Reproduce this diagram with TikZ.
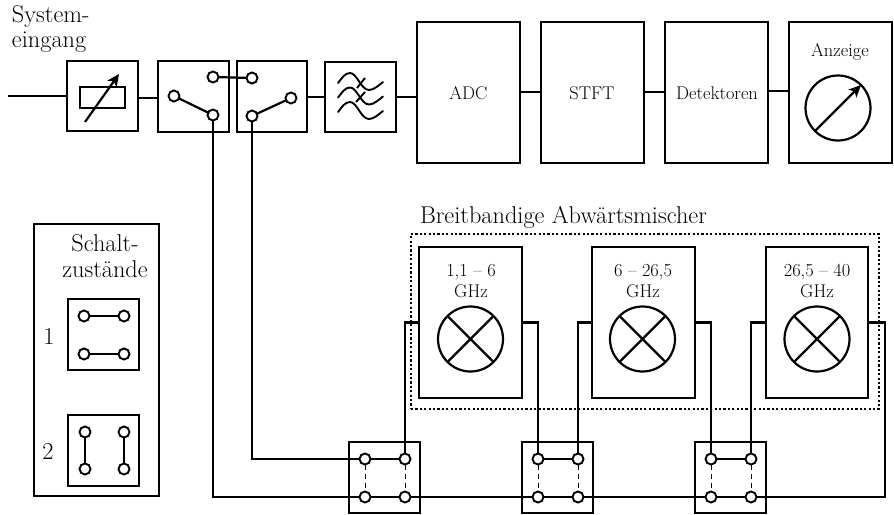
\documentclass[tikz,border=0pt]{standalone}
\usetikzlibrary{arrows.meta}
\tikzset{
  x=1pt,y=-1pt,
  wire/.style={draw,line width=2.2pt},
  thin wire/.style={draw,line width=1.9pt},
  blockbox/.style={draw,line width=2.2pt,inner sep=0pt,outer sep=0pt,rectangle},
  term/.style={draw,fill=white,circle,line width=1.9pt,minimum size=11pt,inner sep=0pt,outer sep=0pt},
  dial/.style={draw,circle,line width=2.2pt,minimum size=65pt,inner sep=0pt,outer sep=0pt},
  label/.style={inner sep=0pt,outer sep=0pt,align=center,font=\fontsize{18.4}{21}\selectfont},
  biglabel/.style={inner sep=0pt,outer sep=0pt,align=center,font=\fontsize{24.3}{25.5}\selectfont},
  tip/.style={-{Stealth[length=12pt,width=11pt,inset=3pt]}},
}
\begin{document}
\begin{tikzpicture}
\useasboundingbox (0,0) rectangle (894,514);
% top row boxes
\node[blockbox,minimum width=71pt,minimum height=70pt] (att) at (102.5,96) {};
\node[blockbox,minimum width=71pt,minimum height=71pt] (swa) at (193.5,96.5) {};
\node[blockbox,minimum width=70pt,minimum height=71pt] (swb) at (272,96.5) {};
\node[blockbox,minimum width=71pt,minimum height=70pt] (filt) at (360.5,97) {};
\node[blockbox,minimum width=103pt,minimum height=141pt] (adc) at (468.5,92.5) {};
\node[blockbox,minimum width=103pt,minimum height=141pt] (stft) at (592.5,92.5) {};
\node[blockbox,minimum width=103pt,minimum height=141pt] (det) at (716.5,92.5) {};
\node[blockbox,minimum width=103pt,minimum height=141pt] (anz) at (840.5,92.5) {};
\node[label] (adct) at (468.5,93) {ADC};
\node[label] (stftt) at (592,93) {STFT};
\node[label] (dett) at (717,93) {Detektoren};
\node[label] (anzt) at (840,52) {Anzeige};
\node[biglabel,align=left,anchor=base west] (sys) at (12,47.5) {System-\\eingang};
\coordinate (inp) at (8,96);
\draw[wire] (inp) -- (att.west);
\draw[wire] (att.east |- 0,98) -- (swa.west |- 0,98);
\draw[wire] (swb.east |- 0,97) -- (filt.west |- 0,97);
\draw[wire] (filt.east) -- (filt.east -| adc.west);
\draw[wire] (adc.east |- 0,92) -- (stft.west |- 0,92);
\draw[wire] (stft.east |- 0,92) -- (det.west |- 0,92);
\draw[wire] (det.east |- 0,91) -- (anz.west |- 0,91);
% attenuator
\node[blockbox,line width=1.9pt,minimum width=45pt,minimum height=21pt] (res) at (102.5,97.5) {};
\coordinate (resa) at (85,122);
\coordinate (resb) at (119,74);
\draw[wire,tip] (resa) -- (resb);
% switches
\node[term] (sa1) at (213,77) {};
\node[term] (sa2) at (174,96) {};
\node[term] (sa3) at (213,115) {};
\node[term] (sb1) at (252,78) {};
\node[term] (sb2) at (291,98) {};
\node[term] (sb3) at (252,116) {};
\draw[wire] (sa2) -- (sa3);
\draw[wire] (sb3) -- (sb2);
\draw[wire] (sa1) -- (sb1);
% filter
\foreach \yy in {0,1,2}{
  \draw[wire,line width=1.9pt,line cap=round] (338,{83+\yy*14.5}) .. controls (342,{78+\yy*14.5}) and (345,{73+\yy*14.5}) .. (350,{73+\yy*14.5}) .. controls (357,{73+\yy*14.5}) and (361,{90+\yy*14.5}) .. (369,{90+\yy*14.5}) .. controls (374,{90+\yy*14.5}) and (379,{85+\yy*14.5}) .. (383,{82+\yy*14.5});
}
\draw[wire,line width=1.9pt] (365,78) -- (357,88);
\draw[wire,line width=1.9pt] (365,92) -- (356,102);
% display
\node[dial] (dsp) at (838,108) {};
\draw[wire,tip] (dsp.225) -- (dsp.45);
% mixers
\node[blockbox,minimum width=103pt,minimum height=151pt] (ma) at (470.5,322.5) {};
\node[blockbox,minimum width=103pt,minimum height=151pt] (mb) at (643.5,322.5) {};
\node[blockbox,minimum width=102pt,minimum height=151pt] (mc) at (817,322.5) {};
\node[label,anchor=base] (mat) at (471,297) {1,1 -- 6\\GHz};
\node[label,anchor=base] (mbt) at (643,297) {6 -- 26,5\\GHz};
\node[label,anchor=base] (mct) at (817,297) {26,5 -- 40\\GHz};
\foreach \n/\x in {xa/470.5,xb/642.5,xc/817}{
  \node[dial] (\n) at (\x,339) {};
  \draw[wire] (\n.45) -- (\n.225);
  \draw[wire] (\n.135) -- (\n.-45);
}
\node[biglabel,anchor=base west] (brt) at (420,223) {Breitbandige Abwärtsmischer};
\node[draw,line width=2.2pt,dash pattern=on 2.2pt off 2.2pt,rectangle,inner sep=0pt,minimum width=468pt,minimum height=175pt] (grp) at (645,321.5) {};
% switch matrices
\foreach \n/\x in {a/384.5,b/557.5,c/730.5}{
  \node[blockbox,minimum width=71pt,minimum height=71pt] (k\n) at (\x,477.5) {};
}
\foreach \n/\x in {a/365,b/538,c/711}{
  \node[term] (\n1) at (\x,459) {};
  \node[term] (\n3) at (\x,497) {};
}
\foreach \n/\x in {a/405,b/578,c/751}{
  \node[term] (\n2) at (\x,459) {};
  \node[term] (\n4) at (\x,497) {};
}
\foreach \n in {a,b,c}{
  \draw[wire] (\n1) -- (\n2);
  \draw[wire] (\n3) -- (\n4);
  \draw[line width=1pt,dash pattern=on 5pt off 4pt] (\n1) -- (\n3);
  \draw[line width=1pt,dash pattern=on 5pt off 4pt] (\n2) -- (\n4);
}
\coordinate (rt) at (885,322.5);
\coordinate (rb) at (885,497);
\draw[wire] (sa3) |- (a3);
\draw[wire] (sb3) |- (a1);
\draw[wire] (a4) -- (b3);
\draw[wire] (b4) -- (c3);
\draw[wire] (c4) -- (rb) -- (rt) -- (mc.east);
\draw[wire] (ma.west) -| (a2);
\draw[wire] (ma.east) -| (b1);
\draw[wire] (mb.west) -| (b2);
\draw[wire] (mb.east) -| (c1);
\draw[wire] (mc.west) -| (c2);
% legend
\node[blockbox,minimum width=125pt,minimum height=272pt] (leg) at (96.5,360) {};
\node[biglabel,anchor=base] (legt) at (105,277) {Schalt-\\zustände};
\node[blockbox,minimum width=71pt,minimum height=71pt] (l1) at (103.5,334.5) {};
\node[blockbox,minimum width=71pt,minimum height=71pt] (l2) at (103.5,450.5) {};
\node[label,font=\fontsize{24.3}{25}\selectfont] (one) at (49,336) {1};
\node[label,font=\fontsize{24.3}{25}\selectfont] (two) at (48,451) {2};
\node[term] (p1) at (84,316) {};
\node[term] (p2) at (124,316) {};
\node[term] (p3) at (84,354) {};
\node[term] (p4) at (124,354) {};
\draw[thin wire] (p1) -- (p2);
\draw[thin wire] (p3) -- (p4);
\node[term] (q1) at (85,432) {};
\node[term] (q2) at (124,432) {};
\node[term] (q3) at (85,469) {};
\node[term] (q4) at (124,469) {};
\draw[thin wire] (q1) -- (q3);
\draw[thin wire] (q2) -- (q4);
\end{tikzpicture}
\end{document}
